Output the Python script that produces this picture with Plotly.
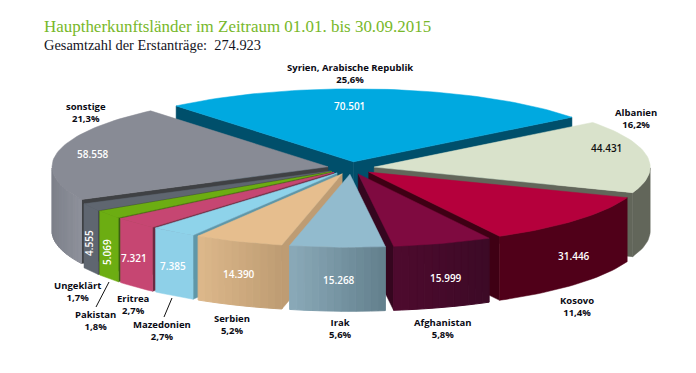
import math
import plotly.graph_objects as go

# ---- data ----
countries = ["Syrien, Arabische Republik", "Albanien", "Kosovo", "Afghanistan", "Irak", "Serbien",
             "Mazedonien", "Eritrea", "Pakistan", "Ungeklärt", "sonstige"]
values = [70501, 44431, 31446, 15999, 15268, 14390, 7385, 7321, 5069, 4555, 58558]
shares = ["25,6%", "16,2%", "11,4%", "5,8%", "5,6%", "5,2%", "2,7%", "2,7%", "1,8%", "1,7%", "21,3%"]
title = "Hauptherkunftsländer im Zeitraum 01.01. bis 30.09.2015"
subtitle = "Gesamtzahl der Erstanträge:  274.923"

# ---- styles ----
top_col = ["#00A9E0", "#D9E2CB", "#B5003C", "#7F0A40", "#92BBCE", "#E6BE8E",
           "#8ED3EA", "#C64672", "#6CAD12", "#5F6670", "#888B95"]
wall_l = ["#004F6B", "#62665A", "#500019", "#4E0A2E", "#8BAAB9", "#DDB88B",
          "#8ED0E8", "#C64672", "#6CAD12", "#5F6670", "#7D808A"]
wall_r = ["#004F6B", "#62665A", "#500019", "#3C0A26", "#627F8C", "#BE9C73",
          "#8ED0E8", "#C64672", "#6CAD12", "#5F6670", "#8E919B"]
face_col = ["#004F6B", "#62665A", "#3F0014", "#35061F", "#627F8C", "#BE9C73",
            "#5F97A8", "#6B2A42", "#3A6010", "#2F3237", "#3F4144"]
CX, CY, RX, RY, DEPTH, EXPLODE, START = 351, 168, 276, 73, 64, 0.085, 130
label_pos = [(350, 73), (636, 118), (577, 306), (443, 328), (340, 328), (232, 324),
             (162, 330), (133, 304), (95, 320), (77, 291), (86, 112)]
value_pos = [(349, 106), (606, 148), (574, 256), (446, 278), (339, 280), (239, 274),
             (173, 266), (134, 258), (107, 252), (89, 243), (93, 154)]
value_angle = [0, 0, 0, 0, 0, 0, 0, 0, -90, -90, 0]
value_color = ["white", "#111111"] + ["white"] * 9
leaders = [((109, 282), (96, 307)), ((172, 298), (164, 317))]
LABEL_FONT = "Open Sans"
FS = 9.5
# the page adds an 8 px body margin, so the plot starts 8 px in
PAGE_MARGIN = 8
PAGE_W, PAGE_H = 696, 373


def mix(c1, c2, t):
    a = [int(c1[i:i + 2], 16) for i in (1, 3, 5)]
    b = [int(c2[i:i + 2], 16) for i in (1, 3, 5)]
    return "#%02X%02X%02X" % tuple(round(p + (q - p) * t) for p, q in zip(a, b))


def poly(fig, pts, color, lw=0.5):
    fig.add_trace(go.Scatter(x=[p[0] for p in pts] + [pts[0][0]], y=[p[1] for p in pts] + [pts[0][1]],
                             mode="lines", fill="toself", fillcolor=color,
                             line=dict(color=color, width=lw), hoverinfo="skip", showlegend=False))


total = sum(values)
slices = []
a = START
for i, v in enumerate(values):
    span = v / total * 360
    slices.append((i, a, a - span))
    a -= span

fig = go.Figure()
order = sorted(slices, key=lambda s: -math.sin(math.radians((s[1] + s[2]) / 2)))
for i, a1, a2 in order:
    mid = math.radians((a1 + a2) / 2)
    ax = CX + EXPLODE * RX * math.cos(mid)
    ay = CY - EXPLODE * RY * math.sin(mid)

    def rim(deg):
        return (ax + RX * math.cos(math.radians(deg)), ay - RY * math.sin(math.radians(deg)))

    # cut faces, only those turned towards the viewer
    for deg, sign in ((a1, 1), (a2, -1)):
        if sign * math.cos(math.radians(deg)) < 0:
            p = rim(deg)
            poly(fig, [(ax, ay), p, (p[0], p[1] + DEPTH), (ax, ay + DEPTH)], face_col[i])
    # rim wall
    n = max(3, int(abs(a1 - a2) / 1.5))
    degs = [a1 + (a2 - a1) * k / n for k in range(n + 1)]
    vis = [d for d in degs if math.sin(math.radians(d)) <= 0.001]
    if len(vis) >= 2:
        xs = [rim(d)[0] for d in vis]
        lo, hi = min(xs), max(xs)
        if wall_l[i] == wall_r[i]:
            up = [rim(d) for d in vis]
            poly(fig, up + [(p[0], p[1] + DEPTH) for p in reversed(up)], wall_l[i])
        else:
            for d1, d2 in zip(vis, vis[1:]):
                p, q = rim(d1), rim(d2)
                t = ((p[0] + q[0]) / 2 - lo) / (hi - lo or 1)
                poly(fig, [p, q, (q[0], q[1] + DEPTH), (p[0], p[1] + DEPTH)], mix(wall_l[i], wall_r[i], t), lw=1)
    # top
    pts = [(ax, ay)] + [rim(d) for d in degs]
    poly(fig, pts, top_col[i])

for p, q in leaders:
    fig.add_trace(go.Scatter(x=[p[0], q[0]], y=[p[1], q[1]], mode="lines",
                             line=dict(color="#111111", width=1), hoverinfo="skip", showlegend=False))

lab_font = dict(family=LABEL_FONT, size=FS, color="#0A0A14", weight="bold")
for i, c in enumerate(countries):
    fig.add_annotation(x=label_pos[i][0], y=label_pos[i][1], text=f"{c}<br>{shares[i]}", showarrow=False,
                       font=lab_font, align="center")
    fig.add_annotation(x=value_pos[i][0], y=value_pos[i][1], text=f"{values[i]:,}".replace(",", "."),
                       showarrow=False, textangle=value_angle[i],
                       font=dict(family=LABEL_FONT, size=10, color=value_color[i], weight=600))

fig.add_annotation(x=43, y=26, text=title, showarrow=False, xanchor="left", xshift=-1,
                   font=dict(family="Liberation Serif", size=16.95, color="#78B82A"))
fig.add_annotation(x=43, y=45, text=subtitle, showarrow=False, xanchor="left", xshift=-1,
                   font=dict(family="Liberation Serif", size=14.4, color="#14141E"))

fig.update_xaxes(range=[PAGE_MARGIN, PAGE_W], visible=False, fixedrange=True)
fig.update_yaxes(range=[PAGE_H, PAGE_MARGIN], visible=False, fixedrange=True)
fig.update_layout(width=PAGE_W - PAGE_MARGIN, height=PAGE_H - PAGE_MARGIN, margin=dict(l=0, r=0, t=0, b=0),
                  plot_bgcolor="white", paper_bgcolor="white", showlegend=False)
fig.write_html("out.html")
